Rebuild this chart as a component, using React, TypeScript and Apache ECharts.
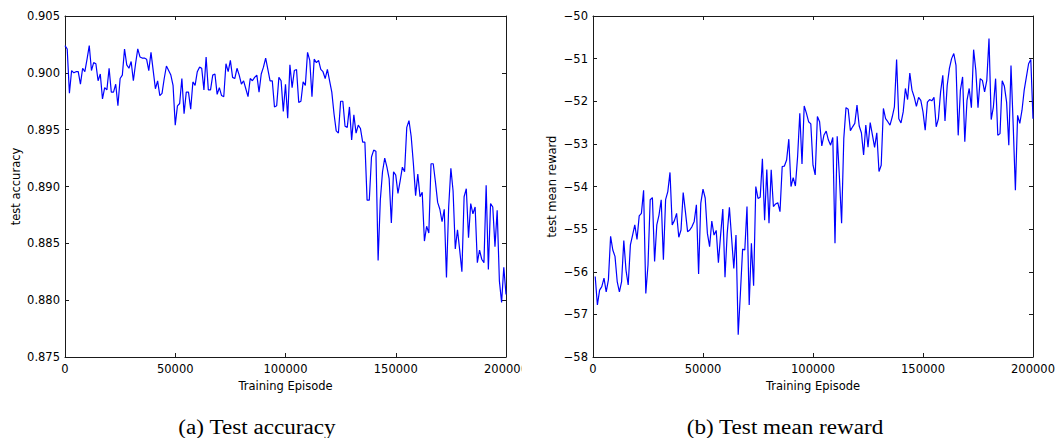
import React, { useEffect, useRef } from "react";
import * as echarts from "echarts";

// ---- data ----
const accuracyValues: number[] = [
  0.9024, 0.9021, 0.8982, 0.9002, 0.9000, 0.9001, 0.9001, 0.8990, 0.9004, 0.9001,
  0.9012, 0.9024, 0.9002, 0.9009, 0.9008, 0.8993, 0.8999, 0.8977, 0.8987, 0.8985,
  0.9004, 0.8983, 0.8983, 0.8990, 0.8971, 0.8995, 0.8998, 0.9021, 0.9007, 0.9004,
  0.9010, 0.8993, 0.9008, 0.9021, 0.9014, 0.9013, 0.9013, 0.9012, 0.9002, 0.9018,
  0.9002, 0.8986, 0.8993, 0.8980, 0.8982, 0.8995, 0.9006, 0.9002, 0.8998, 0.8989,
  0.8954, 0.8971, 0.8973, 0.8995, 0.8964, 0.8983, 0.8983, 0.8968, 0.8992, 0.8989,
  0.9001, 0.9005, 0.9004, 0.8985, 0.9014,
  0.8985, 0.8985, 0.8998, 0.8999, 0.8981, 0.8987, 0.8980, 0.8979, 0.9008, 0.9001,
  0.9011, 0.8996, 0.8995, 0.9004, 0.8998, 0.8990, 0.8993, 0.8986, 0.8979, 0.8995,
  0.8993, 0.8996, 0.8998, 0.8983, 0.8999, 0.9005, 0.9013, 0.9003, 0.8993, 0.8993,
  0.8970, 0.8971, 0.8996, 0.8993, 0.8966, 0.8990, 0.8960, 0.9007, 0.8987, 0.9002,
  0.9003, 0.8974, 0.8975, 0.8992, 0.8989, 0.9018, 0.9011, 0.8979, 0.9012, 0.9009,
  0.9011, 0.9003, 0.9001, 0.8995, 0.9003, 0.8993, 0.8983, 0.8964, 0.8949, 0.8947,
  0.8975, 0.8975, 0.8953, 0.8952, 0.8970,
  0.8941, 0.8963, 0.8947, 0.8954, 0.8951, 0.8939, 0.8939, 0.8888, 0.8888, 0.8926,
  0.8932, 0.8931, 0.8835, 0.8888, 0.8913, 0.8925, 0.8917, 0.8907, 0.8868, 0.8913,
  0.8910, 0.8894, 0.8905, 0.8917, 0.8913, 0.8952, 0.8958, 0.8944, 0.8920, 0.8892,
  0.8911, 0.8891, 0.8895, 0.8852, 0.8865, 0.8859, 0.8920, 0.8920, 0.8904, 0.8886,
  0.8880, 0.8869, 0.8880, 0.8820, 0.8882, 0.8916, 0.8896, 0.8845, 0.8862, 0.8844,
  0.8825, 0.8891, 0.8898, 0.8855, 0.8885, 0.8876, 0.8882, 0.8833, 0.8844, 0.8836,
  0.8833, 0.8901, 0.8827, 0.8885, 0.8882, 0.8847, 0.8879, 0.8817, 0.8798, 0.8829,
  0.8805,
];

const rewardValues: number[] = [
  -56.11, -56.78, -56.43, -56.35, -56.15, -56.47, -56.19, -55.17, -55.49, -55.64,
  -56.23, -56.47, -56.23, -55.27, -55.96, -56.31, -55.37, -55.14, -54.90, -55.24,
  -54.69, -54.63, -54.09, -56.51, -55.84, -54.31, -54.26, -55.76, -54.90, -54.67,
  -54.31, -55.72, -54.31, -54.12, -53.67, -54.90, -54.80, -54.63, -55.19, -55.02,
  -54.14, -54.59, -55.06, -55.02, -54.94, -54.82, -54.43, -56.05, -54.39, -54.06,
  -54.27, -55.10, -55.41, -54.81, -55.14, -55.03, -55.79, -55.14, -54.53, -56.13,
  -55.10, -54.49, -55.21, -55.92, -55.14, -57.48,
  -56.51, -55.47, -55.49, -54.47, -56.78, -55.33, -56.33, -54.00, -54.28, -54.25,
  -53.35, -54.79, -53.60, -54.86, -53.61, -54.47, -54.41, -54.38, -54.59, -53.53,
  -53.52, -53.38, -52.89, -54.00, -53.79, -53.99, -53.30, -52.28, -53.47, -52.11,
  -52.28, -52.48, -52.53, -53.50, -53.73, -52.36, -52.48, -53.05, -52.79, -52.70,
  -52.91, -53.03, -52.85, -55.33, -52.82, -53.77, -54.86, -52.87, -52.15, -52.19,
  -52.69, -52.60, -52.52, -52.09, -52.58, -52.74, -53.26, -52.56, -53.08, -52.50,
  -52.79, -53.08, -52.74, -53.65,
  -53.50, -52.17, -52.41, -52.48, -52.56, -52.37, -52.13, -51.02, -52.41, -52.51,
  -52.25, -51.70, -51.96, -51.34, -51.74, -51.90, -52.12, -51.91, -51.98, -52.25,
  -52.68, -52.02, -51.96, -51.99, -51.91, -52.60, -52.41, -51.78, -51.39, -52.46,
  -51.63, -51.23, -51.00, -50.88, -51.16, -52.80, -51.74, -51.43, -52.95, -51.98,
  -51.70, -52.15, -50.79, -51.27, -52.15, -51.47, -51.51, -51.78, -51.51, -50.53,
  -52.43, -52.13, -51.47, -52.80, -52.76, -51.52, -51.65, -52.02, -53.03, -51.16,
  -52.56, -54.09, -52.33, -52.52, -52.21, -51.74, -51.43, -51.12, -51.02, -52.41,
];

const episodeStep = 1000;
const accuracyStart = 0;
const rewardStart = 1000;

const xTicks = [0, 50000, 100000, 150000, 200000];
const accuracyTicks = [0.875, 0.88, 0.885, 0.89, 0.895, 0.9, 0.905];
const rewardTicks = [-58, -57, -56, -55, -54, -53, -52, -51, -50];

const captions = ["(a) Test accuracy", "(b) Test mean reward"];

// ---- styling ----
const AX = "#1a1a1a";
const FONT = "DejaVu Sans";
const labelStyle = { fontFamily: FONT, fontSize: 11.5, color: "#000" };

function fmtMinus(v: number) {
  return v < 0 ? "\u2212" + String(Math.abs(v)) : String(v);
}

function frameAxis(base: any, extra: any) {
  return {
    type: "value",
    splitLine: { show: false },
    axisLine: { show: true, onZero: false, lineStyle: { color: AX, width: 1 } },
    axisTick: { show: true, inside: true, length: 4, lineStyle: { color: AX, width: 1 } },
    ...base,
    ...extra,
  };
}

export default function App() {
  const ref = useRef<HTMLDivElement>(null);
  useEffect(() => {
    if (!ref.current) return;
    const chart = echarts.init(ref.current, undefined, { renderer: "svg" });

    const accData = accuracyValues.map((v, i) => [accuracyStart + i * episodeStep, v]);
    const rewData = rewardValues.map((v, i) => [rewardStart + i * episodeStep, v]);

    const xBase = {
      min: xTicks[0],
      max: xTicks[xTicks.length - 1],
      interval: xTicks[1] - xTicks[0],
    };
    const accBase = {
      min: accuracyTicks[0],
      max: accuracyTicks[accuracyTicks.length - 1],
      interval: 0.005,
    };
    const rewBase = {
      min: rewardTicks[0],
      max: rewardTicks[rewardTicks.length - 1],
      interval: 1,
    };

    const xName = {
      name: "Training Episode",
      nameLocation: "middle",
      nameGap: 21,
      nameTextStyle: { fontFamily: FONT, fontSize: 11.5, color: "#000" },
    };

    const option: any = {
      animation: false,
      backgroundColor: "#fff",
      grid: [
        { left: 65, top: 16, width: 441, height: 341, containLabel: false },
        { left: 593, top: 16, width: 440, height: 341, containLabel: false },
      ],
      xAxis: [
        frameAxis(xBase, {
          gridIndex: 0,
          position: "bottom",
          axisLabel: { ...labelStyle, margin: 6, showMinLabel: true, showMaxLabel: true, formatter: (v: number) => String(v) },
          ...xName,
        }),
        frameAxis(xBase, { gridIndex: 0, position: "top", axisLabel: { show: false } }),
        frameAxis(xBase, {
          gridIndex: 1,
          position: "bottom",
          axisLabel: { ...labelStyle, margin: 6, showMinLabel: true, showMaxLabel: true, formatter: (v: number) => String(v) },
          ...xName,
        }),
        frameAxis(xBase, { gridIndex: 1, position: "top", axisLabel: { show: false } }),
      ],
      yAxis: [
        frameAxis(accBase, {
          gridIndex: 0,
          position: "left",
          axisLabel: { ...labelStyle, margin: 5, showMinLabel: true, showMaxLabel: true, formatter: (v: number) => v.toFixed(3) },
          name: "test accuracy",
          nameLocation: "middle",
          nameGap: 43,
          nameTextStyle: { fontFamily: FONT, fontSize: 11.5, color: "#000" },
        }),
        frameAxis(accBase, { gridIndex: 0, position: "right", axisLabel: { show: false } }),
        frameAxis(rewBase, {
          gridIndex: 1,
          position: "left",
          axisLabel: { ...labelStyle, margin: 5, showMinLabel: true, showMaxLabel: true, formatter: (v: number) => fmtMinus(v) },
          name: "test mean reward",
          nameLocation: "middle",
          nameGap: 35,
          nameTextStyle: { fontFamily: FONT, fontSize: 11.5, color: "#000" },
        }),
        frameAxis(rewBase, { gridIndex: 1, position: "right", axisLabel: { show: false } }),
      ],
      series: [
        {
          type: "line",
          xAxisIndex: 0,
          yAxisIndex: 0,
          data: accData,
          showSymbol: false,
          symbol: "none",
          lineStyle: { color: "#0000ff", width: 1.2 },
          z: 1,
        },
        {
          type: "line",
          xAxisIndex: 2,
          yAxisIndex: 2,
          data: rewData,
          showSymbol: false,
          symbol: "none",
          lineStyle: { color: "#0000ff", width: 1.2 },
          z: 1,
        },
      ],
      graphic: [
        {
          type: "rect",
          z: 100,
          shape: { x: 521.5, y: 359, width: 30, height: 20 },
          style: { fill: "#fff" },
        },
        {
          type: "text",
          z: 100,
          x: 257,
          y: 427,
          scaleX: 1.13,
          style: {
            text: captions[0],
            fontFamily: "Liberation Serif",
            fontSize: 20.5,
            fill: "#000",
            align: "center",
            verticalAlign: "middle",
          },
        },
        {
          type: "text",
          z: 100,
          x: 785,
          y: 427,
          scaleX: 1.13,
          style: {
            text: captions[1],
            fontFamily: "Liberation Serif",
            fontSize: 20.5,
            fill: "#000",
            align: "center",
            verticalAlign: "middle",
          },
        },
      ],
    };

    chart.setOption(option);
    return () => chart.dispose();
  }, []);

  return (
    <div
      ref={ref}
      style={{ position: "fixed", left: 0, top: 0, width: 1059, height: 438, background: "#fff" }}
    />
  );
}
